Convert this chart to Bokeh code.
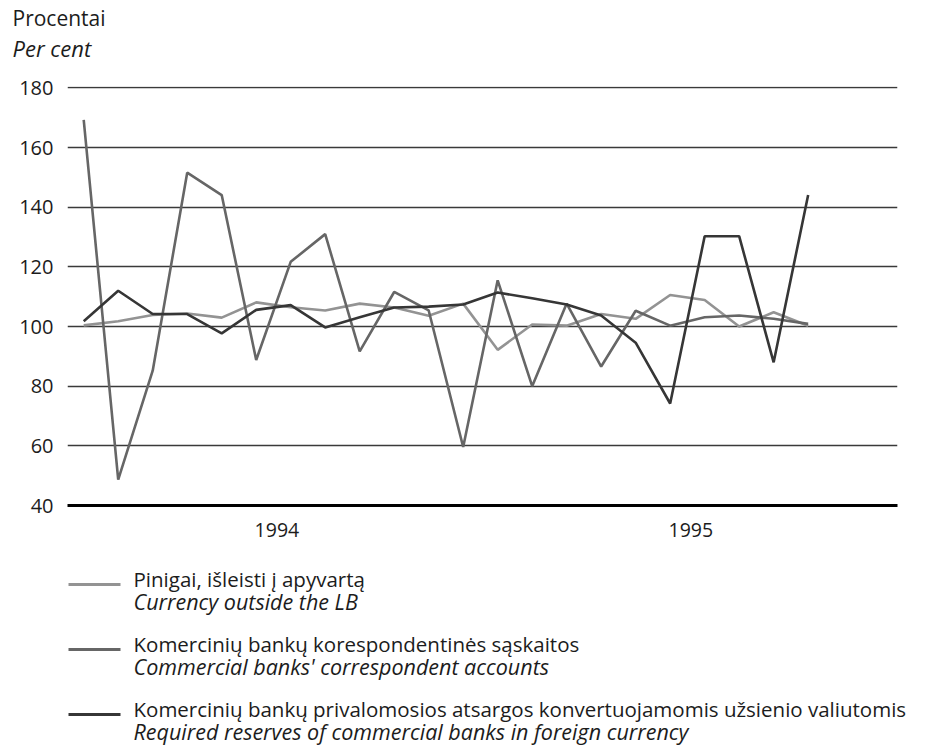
from bokeh.plotting import figure
from bokeh.models import Range1d, FixedTicker
from bokeh.layouts import column, row
from bokeh.embed import file_html
from bokeh.resources import INLINE
from bokeh.core.properties import value

# ---- data (monthly indices, Jan 1994 - Oct 1995) ----
months = list(range(22))
currency = [100.4, 101.8, 103.9, 104.4, 103.0, 108.1, 106.5, 105.4, 107.7, 106.4, 103.6,
            107.7, 92.2, 100.7, 100.3, 104.2, 102.6, 110.6, 108.9, 100.0, 104.8, 100.3]
correspondent = [169.3, 48.7, 85.2, 151.6, 144.1, 88.8, 121.7, 131.0, 91.7, 111.6, 105.4,
                 59.6, 115.5, 80.0, 107.7, 86.6, 105.3, 100.3, 103.1, 103.7, 102.6, 100.9]
reserves = [101.8, 112.0, 104.2, 104.2, 97.7, 105.6, 107.2, 99.7, 103.1, 106.4, 106.7,
            107.4, 111.4, 109.5, 107.4, 103.7, 94.6, 74.2, 130.3, 130.3, 88.0, 144.1]
y_ticks = [40, 60, 80, 100, 120, 140, 160, 180]
year_labels = ["1994", "1995"]
year_pos = [5.6, 17.6]

unit_lt = "Procentai"
unit_en = "Per cent"
legend_lt = ["Pinigai, išleisti į apyvartą",
             "Komercinių bankų korespondentinės sąskaitos",
             "Komercinių bankų privalomosios atsargos konvertuojamomis užsienio valiutomis"]
legend_en = ["Currency outside the LB",
             "Commercial banks' correspondent accounts",
             "Required reserves of commercial banks in foreign currency"]

FONT = "Open Sans"
TXT = "#1c1c1c"
colors = ["#939393", "#666666", "#363636"]
series = [currency, correspondent, reserves]
W = 930


def blank(h):
    f = figure(width=W, height=h, x_range=Range1d(0, W), y_range=Range1d(h, 0),
               output_backend="svg", toolbar_location=None,
               x_axis_location=None, y_axis_location=None,
               min_border_left=0, min_border_right=0, min_border_top=0, min_border_bottom=0)
    f.grid.grid_line_color = None
    f.outline_line_color = None
    return f


# ---- header ----
hd = blank(74)
hd.text([12], [17], text=[unit_lt], text_font=value(FONT), text_font_size="21px",
        text_baseline="middle", text_color=TXT)
hd.text([12], [47], text=[unit_en], text_font=value(FONT), text_font_size="22px",
        text_font_style="italic", text_baseline="middle", text_color=TXT)

# ---- main chart ----
p = figure(width=W, height=484, x_range=Range1d(-0.47, 23.59), y_range=Range1d(40, 180.5),
           output_backend="svg", toolbar_location=None,
           min_border_left=67, min_border_right=33, min_border_top=12, min_border_bottom=53)
p.outline_line_color = None

for ys, c in zip(series, colors):
    p.line(months, ys, line_color=c, line_width=2.6)

p.yaxis.ticker = FixedTicker(ticks=y_ticks)
p.yaxis.axis_line_color = None
p.yaxis.major_tick_line_color = None
p.yaxis.minor_tick_line_color = None
p.yaxis.major_label_text_font = FONT
p.yaxis.major_label_text_font_size = "20px"
p.yaxis.major_label_text_color = TXT
p.yaxis.major_label_standoff = 8

p.ygrid.ticker = FixedTicker(ticks=y_ticks)
p.ygrid.grid_line_color = "#3a3a3a"
p.ygrid.grid_line_width = 1.4
p.xgrid.grid_line_color = None

p.xaxis.ticker = FixedTicker(ticks=year_pos)
p.xaxis.major_label_overrides = {pos: lab for pos, lab in zip(year_pos, year_labels)}
p.xaxis.axis_line_color = "black"
p.xaxis.axis_line_width = 3
p.xaxis.major_tick_line_color = None
p.xaxis.minor_tick_line_color = None
p.xaxis.major_label_text_font = FONT
p.xaxis.major_label_text_font_size = "19.5px"
p.xaxis.major_label_text_color = TXT
p.xaxis.major_label_standoff = 11

# ---- legend ----
lg = blank(189)
row_y = [26, 91, 156]
for i in range(3):
    y0 = row_y[i]
    lg.line([68, 120], [y0, y0], line_color=colors[i], line_width=3)
    lg.text([133], [y0 - 6], text=[legend_lt[i]], text_font=value(FONT),
            text_font_size="20.5px", text_baseline="middle", text_color=TXT)
    lg.text([133], [y0 + 17], text=[legend_en[i]], text_font=value(FONT),
            text_font_size="21.5px", text_font_style="italic",
            text_baseline="middle", text_color=TXT)

layout = column(row(hd), row(p), row(lg), spacing=0)
open("out.html", "w").write(file_html(layout, INLINE))
